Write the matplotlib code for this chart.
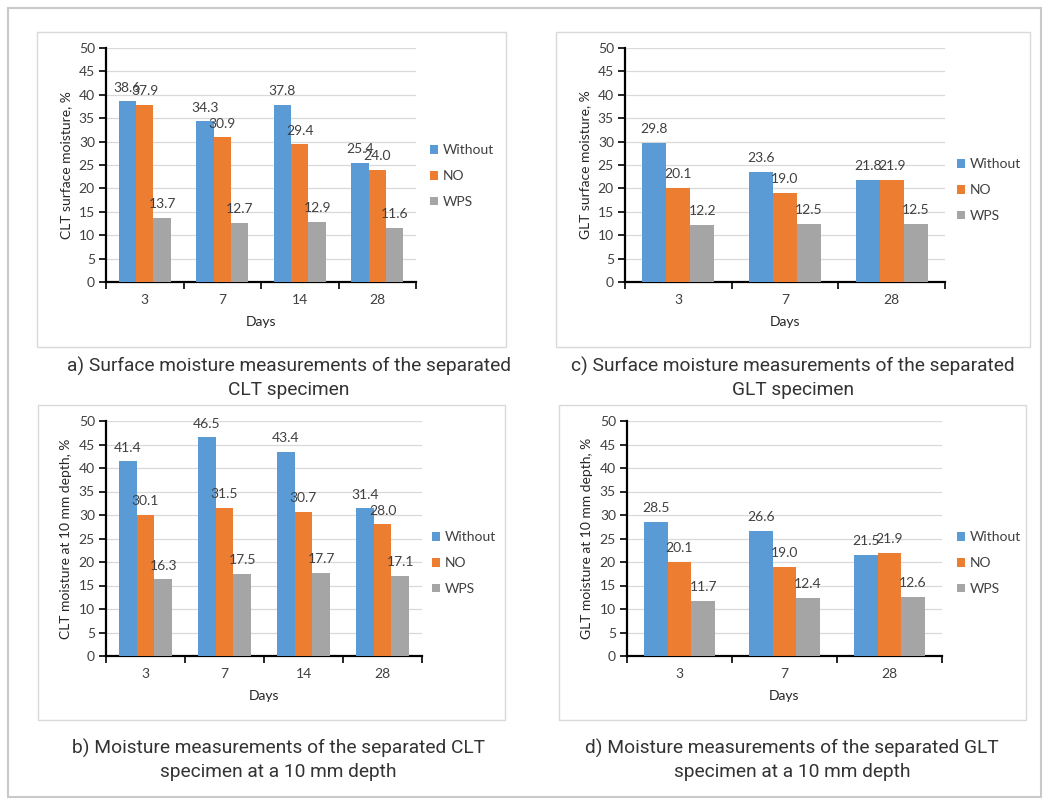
import matplotlib.pyplot as plt
from matplotlib.patches import Rectangle
import numpy as np

plt.rcParams['font.family'] = ['Lato', 'DejaVu Sans']

# Data
series = ['Without', 'NO', 'WPS']
colors = ['#5B9BD5', '#ED7D31', '#A5A5A5']

days_clt = ['3', '7', '14', '28']
days_glt = ['3', '7', '28']

clt_surface = [[38.6, 34.3, 37.8, 25.4], [37.9, 30.9, 29.4, 24.0], [13.7, 12.7, 12.9, 11.6]]
glt_surface = [[29.8, 23.6, 21.8], [20.1, 19.0, 21.9], [12.2, 12.5, 12.5]]
clt_depth = [[41.4, 46.5, 43.4, 31.4], [30.1, 31.5, 30.7, 28.0], [16.3, 17.5, 17.7, 17.1]]
glt_depth = [[28.5, 26.6, 21.5], [20.1, 19.0, 21.9], [11.7, 12.4, 12.6]]

W, H = 1049, 802
fig = plt.figure(figsize=(W / 100, H / 100), dpi=100)


def px_rect(x0, y0, x1, y1):
    # pixel box (top-left origin) -> figure fraction rect
    return [x0 / W, 1 - y1 / H, (x1 - x0) / W, (y1 - y0) / H]


def add_box(x0, y0, x1, y1, color, lw):
    r = Rectangle((x0 / W, 1 - y1 / H), (x1 - x0) / W, (y1 - y0) / H,
                  transform=fig.transFigure, fill=False, edgecolor=color, linewidth=lw)
    fig.add_artist(r)


# outer frame and panel frames
add_box(8, 8, 1041, 797, '#C9C9C9', 1.5)
add_box(37, 32, 506, 347, '#D9D9D9', 1.0)
add_box(556, 32, 1030, 347, '#D9D9D9', 1.0)
add_box(38, 405, 505, 720, '#D9D9D9', 1.0)
add_box(559, 405, 1026, 720, '#D9D9D9', 1.0)


def panel(rect, cats, vals, ylabel, leg_x, leg_y):
    ax = fig.add_axes(px_rect(*rect))
    n = len(cats)
    x = np.arange(n)
    bw = 0.225
    for i, (s, c) in enumerate(zip(series, colors)):
        pos = x + (i - 1) * bw
        bars = ax.bar(pos, vals[i], bw, color=c, label=s, zorder=3)
        for b, v in zip(bars, vals[i]):
            ax.annotate(f'{v:.1f}', (b.get_x() + b.get_width() / 2, v),
                        xytext=(0, 5.5), textcoords='offset points',
                        ha='center', va='bottom', fontsize=10, color='#404040', zorder=4)
    ax.set_xlim(-0.5, n - 0.5)
    ax.set_ylim(0, 50)
    ax.set_yticks(range(0, 51, 5))
    ax.set_xticks(np.arange(n + 1) - 0.5)
    ax.set_xticklabels([])
    ax.set_xticks(x, minor=True)
    ax.set_xticklabels(cats, minor=True)
    ax.tick_params(axis='x', which='minor', length=0, pad=9, labelsize=10, labelcolor='#404040')
    ax.tick_params(axis='x', which='major', length=5, width=1.2, direction='out')
    ax.tick_params(axis='y', length=5, width=1.2, labelsize=10, labelcolor='#404040', pad=3)
    ax.grid(axis='y', color='#D9D9D9', linewidth=0.9, zorder=0)
    for side in ['top', 'right']:
        ax.spines[side].set_visible(False)
    for side in ['left', 'bottom']:
        ax.spines[side].set_linewidth(1.6)
        ax.spines[side].set_color('black')
    ax.set_xlabel('Days', fontsize=10, color='#262626', labelpad=7)
    ax.set_ylabel(ylabel, fontsize=10, color='#262626', labelpad=5)
    fig.legend(handles=ax.containers, labels=series, loc='center left',
               bbox_to_anchor=(leg_x / W, 1 - leg_y / H), frameon=False,
               fontsize=10, handlelength=0.6, handleheight=0.6,
               handletextpad=0.35, labelspacing=1.0, borderpad=0, borderaxespad=0,
               labelcolor='#404040')
    return ax


panel((106, 48, 416, 282), days_clt, clt_surface, 'CLT surface moisture, %', 430, 176)
panel((625, 48, 945, 282), days_glt, glt_surface, 'GLT surface moisture, %', 957, 190)
panel((106, 421, 422, 656), days_clt, clt_depth, 'CLT moisture at 10 mm depth, %', 432, 563)
panel((627, 421, 942, 656), days_glt, glt_depth, 'GLT moisture at 10 mm depth, %', 957, 563)

cap_kw = dict(ha='center', va='center', fontsize=13.8, color='#333333', family='Roboto',
              linespacing=1.3)
fig.text(289 / W, 1 - 378 / H, 'a) Surface moisture measurements of the separated\nCLT specimen', **cap_kw)
fig.text(793 / W, 1 - 378 / H, 'c) Surface moisture measurements of the separated\nGLT specimen', **cap_kw)
fig.text(278 / W, 1 - 760 / H, 'b) Moisture measurements of the separated CLT\nspecimen at a 10 mm depth', **cap_kw)
fig.text(792 / W, 1 - 760 / H, 'd) Moisture measurements of the separated GLT\nspecimen at a 10 mm depth', **cap_kw)

fig.savefig('out.png', dpi=100, facecolor='white')
